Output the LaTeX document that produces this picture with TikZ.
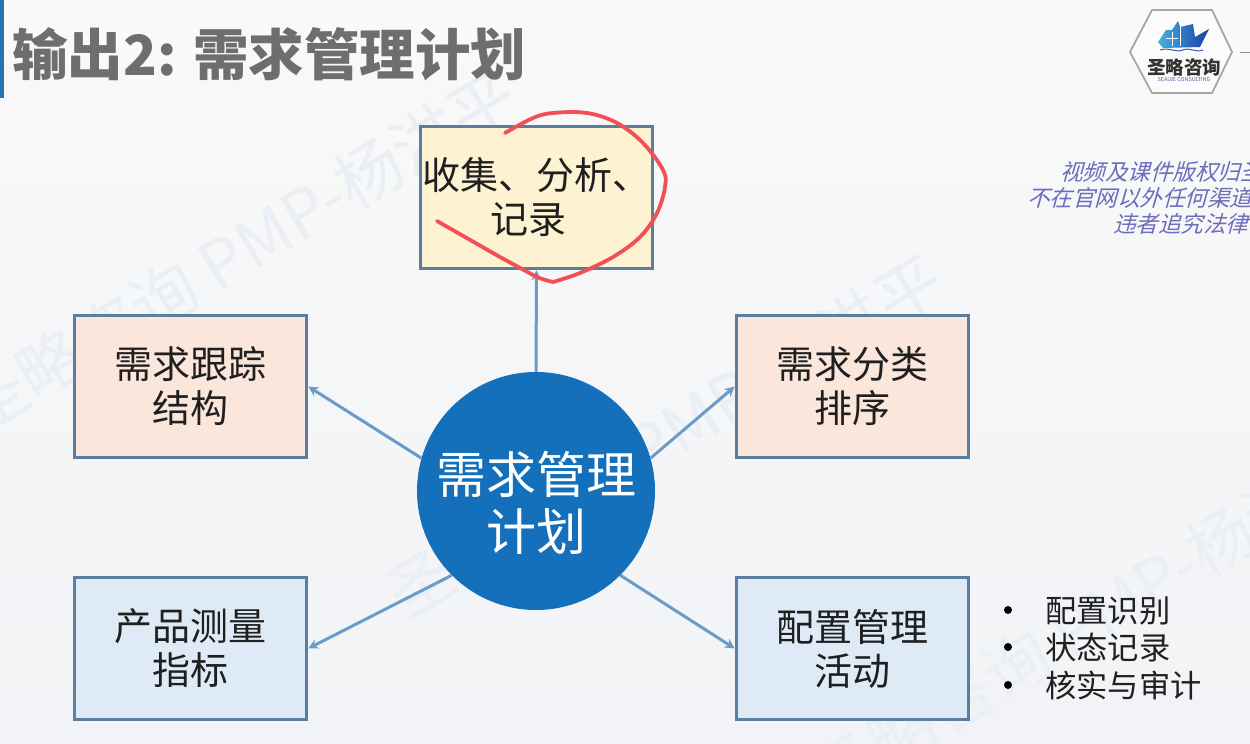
\documentclass[tikz,border=0pt]{standalone}
\usepackage{fontspec}
\usetikzlibrary{arrows.meta,shapes.geometric,calc}
\newfontfamily\cjk{Noto Sans CJK SC}
\newfontfamily\cjkslant[FakeSlant=0.28]{Noto Sans CJK SC}
\definecolor{bordercol}{HTML}{5A7DA0}
\definecolor{arrowcol}{HTML}{6A9BC9}
\definecolor{hubcol}{HTML}{1570BB}
\definecolor{yellowfill}{HTML}{FDF2D2}
\definecolor{peachfill}{HTML}{FAE6DB}
\definecolor{bluefill}{HTML}{DEEBF6}
\definecolor{titlecol}{HTML}{6E6E6E}
\definecolor{markcol}{HTML}{E9EFF5}
\definecolor{copycol}{HTML}{6C6CBC}
\definecolor{redink}{HTML}{F25055}
\definecolor{bgtop}{HTML}{F9F9F9}
\definecolor{bgmid}{HTML}{F5F6F8}
\definecolor{bgbot}{HTML}{F2F3F6}
\definecolor{shipL}{HTML}{45B0DC}
\definecolor{shipR}{HTML}{1A3FA8}
\tikzset{
  x=1pt,y=-1pt,
  boxnode/.style={draw=bordercol,line width=3.5pt,minimum width=232pt,minimum height=142pt,
    inner sep=0pt,align=center,text=black!88,font=\cjk\fontsize{38}{44}\selectfont},
  hubnode/.style={circle,fill=hubcol,draw=none,minimum size=238pt,inner sep=0pt},
  hubtext/.style={inner sep=0pt,align=center,text=white,font=\cjk\fontsize{50}{57}\selectfont},
  link/.style={draw=arrowcol,line width=3pt,-{Stealth[length=10pt,width=10pt]}},
  marknode/.style={text=markcol,rotate=31,font=\cjk\fontsize{66}{76}\selectfont,inner sep=0pt},
  copynode/.style={anchor=west,text=copycol,inner sep=0pt,font=\cjkslant\fontsize{22.5}{26}\selectfont},
  listnode/.style={anchor=west,text=black!88,inner sep=0pt,font=\cjk\fontsize{31.3}{37}\selectfont},
  dotnode/.style={circle,fill=black,draw=none,inner sep=0pt,minimum size=8pt},
  inkline/.style={draw=redink,line width=3.8pt,line cap=round,line join=round},
}
\begin{document}
\begin{tikzpicture}
\useasboundingbox (0,0) rectangle (1250,744);
\clip (0,0) rectangle (1250,744);
\shade[top color=bgtop,middle color=bgmid,bottom color=bgbot] (0,0) rectangle (1250,744);
% watermark
\node[marknode] (wmA) at (238,252) {圣略咨询 PMP-杨洪平};
\node[marknode] (wmB) at (665,437) {圣略咨询 PMP-杨洪平};
\node[marknode] (wmC) at (1090,620) {圣略咨询 PMP-杨洪平};
% title
\fill[hubcol!80!gray] (0,0) rectangle (4,98);
\node[anchor=west,inner sep=0pt,text=titlecol,font=\cjk\bfseries\fontsize{55.5}{60}\selectfont] (title) at (12,54) {输出2: 需求管理计划};
% logo
\draw[draw=black!35,fill=white!97!gray,line width=1.8pt,line join=round] (1130,52) -- (1152,10) -- (1212,10) -- (1232,52) -- (1212,93) -- (1152,93) -- cycle;
\shade[left color=shipL,right color=shipR] (1158,42) -- (1166,30) -- (1172,30) -- (1178,21) -- (1180,27) -- (1193,24) -- (1195,37) -- (1209,29) -- (1200,47) -- (1163,48) -- cycle;
\draw[white,line width=0.8pt] (1180,27) -- (1180,46) (1172,32) -- (1172,46) (1166,38) -- (1178,38);
\draw[shipR!70!shipL,line width=1pt] (1160,50) .. controls (1170,47) and (1175,53) .. (1183,50) .. controls (1190,47) and (1195,53) .. (1203,50);
\node[inner sep=0pt,text=black!80,font=\cjk\bfseries\fontsize{18.5}{20}\selectfont] (logotext) at (1184,67) {圣略咨询};
\node[inner sep=0pt,text=blue!30!gray,font=\cjk\fontsize{5.4}{6}\selectfont] (logosub) at (1184,79.5) {SEALVE CONSULTING};
\coordinate (ruleA) at (1240,52);
\coordinate (ruleB) at (1250,52);
\draw[black!45,line width=1pt] (ruleA) -- (ruleB);
% copyright
\node[copynode] (copyA) at (1060,172) {视频及课件版权归圣};
\node[copynode] (copyB) at (1027,198) {不在官网以外任何渠道};
\node[copynode] (copyC) at (1113,224) {违者追究法律};
% nodes
\node[hubnode] (hub) at (536,491) {};
\node[hubtext] (hubt) at (536,503) {需求管理\\计划};
\node[boxnode,fill=yellowfill] (top) at (536.5,197.5) {收集、分析、\\记录\hspace*{16pt}};
\node[boxnode,fill=peachfill] (ll) at (190.5,386.5) {需求跟踪\\结构};
\node[boxnode,fill=peachfill] (rr) at (852.5,386.5) {需求分类\\排序};
\node[boxnode,fill=bluefill] (bl) at (190.5,648.5) {产品测量\\指标};
\node[boxnode,fill=bluefill] (br) at (852.5,648.5) {配置管理\\活动};
% connectors
\draw[link] (hub.north) -- (top.south);
\draw[link] (hub.164) -- (ll.east);
\draw[link] (hub.16) -- (rr.west);
\draw[link] (hub.225) -- (bl.east);
\draw[link] (hub.-45) -- (br.west);
% list
\node[dotnode] (dotA) at (1008,610) {};
\node[dotnode] (dotB) at (1008,647) {};
\node[dotnode] (dotC) at (1008,685) {};
\node[listnode] (itemA) at (1045,611) {配置识别};
\node[listnode] (itemB) at (1045,648) {状态记录};
\node[listnode] (itemC) at (1045,686) {核实与审计};
% red ink
\draw[inkline] plot[smooth,tension=0.6] coordinates {(505,133) (533,118) (553,113) (587,113) (617,123) (643,143) (663,170) (665,187) (657,213) (640,237) (613,257) (580,273) (553,282)};
\draw[inkline] (553,282) .. controls (545,280) and (538,278) .. (533,275) -- (500,257) -- (437,221);
\end{tikzpicture}
\end{document}
